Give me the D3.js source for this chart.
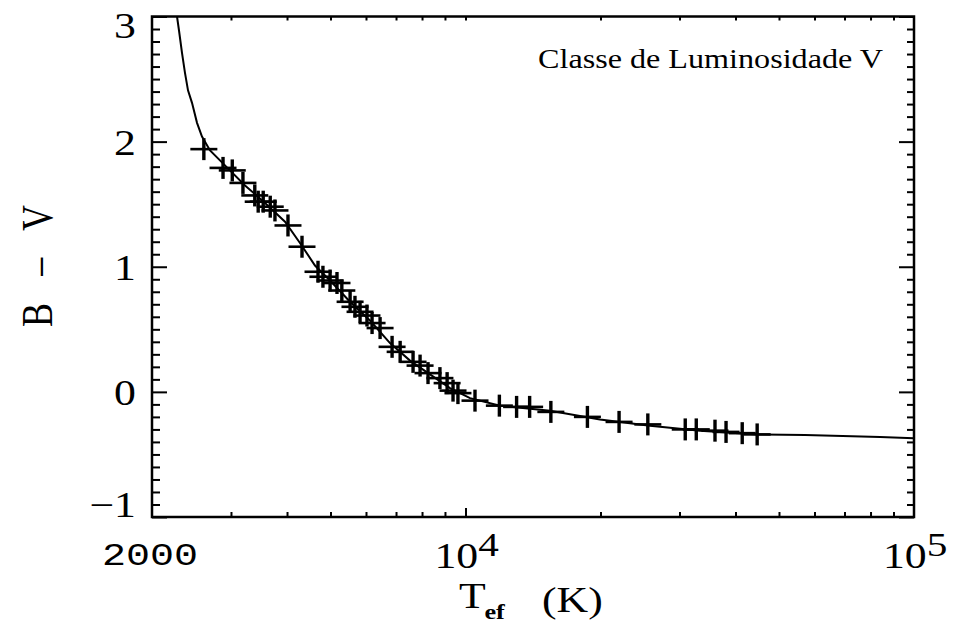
<!DOCTYPE html>
<html>
<head>
<meta charset="utf-8">
<script src="https://cdn.jsdelivr.net/npm/d3@7"></script>
<style>
  body { margin: 0; background: #fff; }
  svg { display: block; }
</style>
</head>
<body>
<svg id="chart" width="961" height="626"></svg>
<script>
// stars of luminosity class V: effective temperature (K) and B-V colour
const starTemp = [2610, 2880, 3020, 3190, 3390, 3450, 3540, 3670, 3760, 4020,
  4320, 4690, 4810, 4990, 5170, 5300, 5530, 5670, 5820, 6030,
  6190, 6450, 6860, 7150, 7640, 7920, 8250, 8770, 9100, 9380,
  9620, 10500, 11900, 13000, 13900, 15500, 18700, 22000, 25500, 30900,
  32700, 36000, 38100, 41400, 44700]
const starBV = [1.94, 1.79, 1.77, 1.67, 1.57, 1.52, 1.52, 1.48, 1.45, 1.33,
  1.16, 0.96, 0.92, 0.89, 0.87, 0.81, 0.72, 0.68, 0.64, 0.61,
  0.55, 0.51, 0.36, 0.32, 0.24, 0.21, 0.15, 0.11, 0.07, 0.01,
  -0.01, -0.07, -0.11, -0.12, -0.12, -0.16, -0.20, -0.24, -0.26, -0.30,
  -0.30, -0.31, -0.32, -0.33, -0.34]

// model curve
const curveTemp = [2274, 2297, 2333, 2369, 2406, 2456, 2520, 2585, 2694, 2909,
  3224, 3573, 3959, 4275, 4618, 4988, 5527, 6125, 6787, 7522,
  8333, 9236, 10236, 11941, 15432, 19948, 25780, 33330, 45000, 57140,
  84000, 100000]
const curveBV = [3.0, 2.89, 2.71, 2.55, 2.41, 2.31, 2.15, 2.04, 1.93, 1.81,
  1.65, 1.51, 1.36, 1.19, 1.01, 0.89, 0.72, 0.57, 0.39, 0.25,
  0.14, 0.03, -0.05, -0.11, -0.15, -0.22, -0.27, -0.31, -0.34, -0.345,
  -0.36, -0.37]

const yMajor = [-1, 0, 1, 2, 3]
const yLabels = ['\u22121', '0', '1', '2', '3']
const xMajor = [1e4]
const xMinor = [3000, 4000, 5000, 6000, 7000, 8000, 9000,
  20000, 30000, 40000, 50000, 60000, 70000, 80000, 90000]

const SX = 1.25 // the lettering in the original is stretched sideways

const svg = d3.select('#chart')
const plot = { left: 152, right: 914, top: 16.5, bottom: 517 }

const x = d3.scaleLog().domain([2000, 1e5]).range([plot.left, plot.right])
const y = d3.scaleLinear().domain([-1, 3]).range([plot.bottom, plot.top])

const yMinor = d3.range(-10, 31).map(d => d / 10).filter(d => !Number.isInteger(d))

function ticks(axis, tx, ty) {
  svg.append('g')
    .attr('transform', `translate(${tx},${ty})`)
    .call(axis)
    .call(g => {
      g.select('.domain').remove()
      g.selectAll('text').remove()
      g.selectAll('line').attr('stroke', '#000').attr('stroke-width', 2)
    })
}

// inward ticks on all four sides
ticks(d3.axisLeft(y).tickValues(yMajor).tickSize(-15).tickFormat(''), plot.left, 0)
ticks(d3.axisLeft(y).tickValues(yMinor).tickSize(-8).tickFormat(''), plot.left, 0)
ticks(d3.axisRight(y).tickValues(yMajor).tickSize(-15).tickFormat(''), plot.right, 0)
ticks(d3.axisRight(y).tickValues(yMinor).tickSize(-7).tickFormat(''), plot.right, 0)
ticks(d3.axisBottom(x).tickValues(xMajor).tickSize(-9).tickFormat(''), 0, plot.bottom)
ticks(d3.axisBottom(x).tickValues(xMinor).tickSize(-5).tickFormat(''), 0, plot.bottom)
ticks(d3.axisTop(x).tickValues(xMajor.concat(xMinor)).tickSize(-4).tickFormat(''), 0, plot.top)

svg.append('rect')
  .attr('x', plot.left).attr('y', plot.top)
  .attr('width', plot.right - plot.left).attr('height', plot.bottom - plot.top)
  .attr('fill', 'none').attr('stroke', '#000').attr('stroke-width', 2.5)

// curve
const curve = curveTemp.map((t, i) => ({ t, bv: curveBV[i] }))
const line = d3.line().x(d => x(d.t)).y(d => y(d.bv))
svg.append('path')
  .datum(curve)
  .attr('fill', 'none')
  .attr('stroke', '#000')
  .attr('stroke-width', 2)
  .attr('d', line)

// plus markers
const stars = svg.append('g')
starTemp.forEach((t, i) => {
  const cx = x(t), cy = y(starBV[i])
  stars.append('line')
    .attr('x1', cx - 13.5).attr('x2', cx + 13.5).attr('y1', cy).attr('y2', cy)
    .attr('stroke', '#000').attr('stroke-width', 2.6)
  stars.append('line')
    .attr('x1', cx).attr('x2', cx).attr('y1', cy - 11).attr('y2', cy + 11)
    .attr('stroke', '#000').attr('stroke-width', 3.4)
})

function label(tx, ty, extra) {
  return svg.append('text')
    .attr('transform', `translate(${tx},${ty}) scale(${SX},1)${extra || ''}`)
    .attr('fill', '#000')
    .attr('font-family', '"Liberation Serif", "Times New Roman", serif')
    .attr('font-size', 35)
}

// y tick labels
yMajor.forEach((v, i) => {
  let by = y(v) + 13
  if (v === 3) by = y(v) + 21.5
  if (v === -1) by = y(v)
  label(136, by).attr('text-anchor', 'end').text(yLabels[i])
})

// x tick labels
label(x(2000) - 2, 565)
  .attr('text-anchor', 'middle')
  .attr('font-family', '"Liberation Mono", monospace')
  .attr('font-size', 32)
  .text('2000')

;[[1e4, '4'], [1e5, '5']].forEach(([v, p]) => {
  const t = label(x(v) - 31, 568)
  t.append('tspan').text('10')
  t.append('tspan').attr('dy', -12).attr('font-size', 33).text(p)
})

// axis titles
const tt = label(459, 608)
tt.append('tspan').text('T')
tt.append('tspan').attr('dx', -1).attr('dy', 11).attr('font-size', 21).attr('font-weight', 'bold').text('ef')
label(542, 612).text('(K)')

label(52, 266, ' rotate(-90)')
  .attr('text-anchor', 'middle')
  .attr('font-size', 36)
  .attr('textLength', 122)
  .attr('lengthAdjust', 'spacing')
  .text('B \u2013 V')

label(538, 68)
  .attr('font-size', 27)
  .attr('textLength', 276)
  .attr('lengthAdjust', 'spacingAndGlyphs')
  .text('Classe de Luminosidade V')
</script>
</body>
</html>
